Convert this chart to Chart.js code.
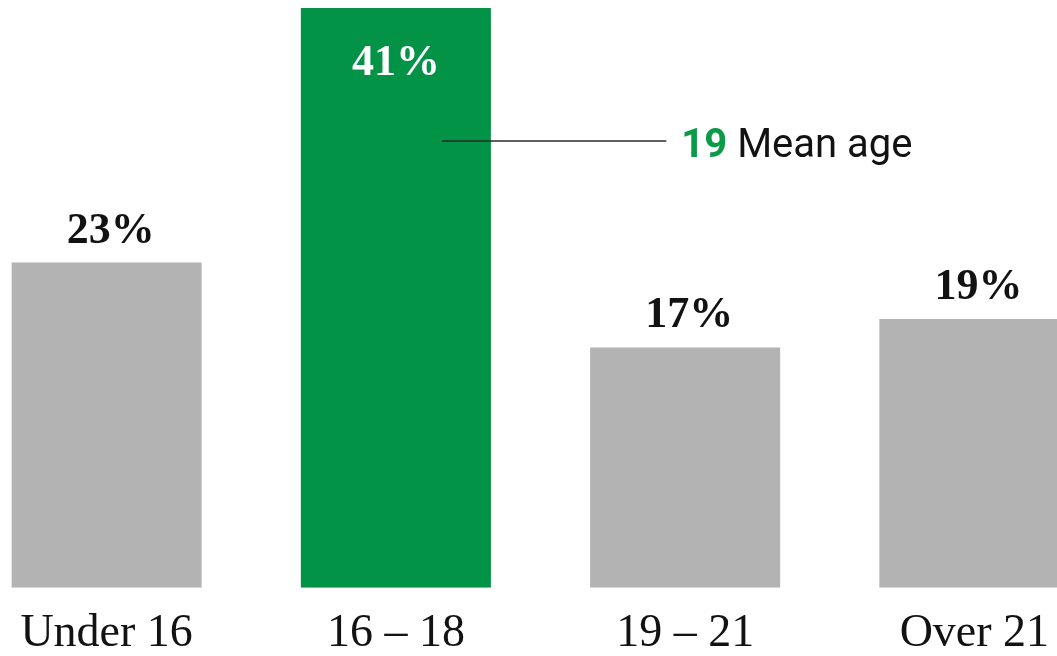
<!DOCTYPE html>
<html>
<head>
<meta charset="utf-8">
<script src="https://cdn.jsdelivr.net/npm/chart.js@4"></script>
<style>
  html, body { margin: 0; padding: 0; background: #fff; overflow: hidden; width: 1057px; height: 656px; }
  #wrap { position: absolute; left: -38px; top: 0; width: 1157px; height: 681px; }
</style>
</head>
<body>
<div id="wrap"><canvas id="c" width="1157" height="681"></canvas></div>
<script>
const categories = ["Under 16", "16 \u2013 18", "19 \u2013 21", "Over 21"];
const shares = [23, 41, 17, 19];
const highlightIndex = 1;
const meanAge = "19";
const meanLabel = "Mean age";

const GREEN = "#039346";
const GREY = "#b3b3b3";
const INK = "#121212";

const barColors = categories.map((_, i) => i === highlightIndex ? GREEN : GREY);

const labelPlugin = {
  id: "labels",
  afterDatasetsDraw(chart) {
    const ctx = chart.ctx;
    const meta = chart.getDatasetMeta(0);
    ctx.save();
    ctx.font = "bold 44px 'Liberation Serif', serif";
    ctx.textAlign = "center";
    ctx.textBaseline = "alphabetic";
    meta.data.forEach((bar, i) => {
      const txt = shares[i] + "%";
      if (i === highlightIndex) {
        ctx.fillStyle = "#ffffff";
        ctx.fillText(txt, bar.x, bar.y + 67);
      } else {
        ctx.fillStyle = INK;
        ctx.fillText(txt, bar.x + 4, bar.y - 20);
      }
    });
    // mean age annotation
    const xs = chart.scales.x, ys = chart.scales.y;
    const step = xs.getPixelForValue(2) - xs.getPixelForValue(1);
    const x0 = xs.getPixelForValue(highlightIndex) + step * 0.16;
    const x1 = xs.getPixelForValue(highlightIndex) + step * 0.935;
    const yL = ys.getPixelForValue(31.6);
    ctx.strokeStyle = "#2a2a2a";
    ctx.lineWidth = 1.6;
    ctx.beginPath();
    ctx.moveTo(x0, yL);
    ctx.lineTo(x1, yL);
    ctx.stroke();
    ctx.textAlign = "left";
    ctx.font = "bold 40px 'Liberation Sans Narrow', 'Roboto', sans-serif";
    ctx.fillStyle = "#0a9a48";
    const tx = x1 + 15;
    const ty = yL + 16;
    ctx.fillText(meanAge, tx, ty);
    const w = ctx.measureText(meanAge + " ").width;
    ctx.font = "40px 'Liberation Sans Narrow', 'Roboto', sans-serif";
    ctx.fillStyle = INK;
    ctx.fillText(meanLabel, tx + w, ty);
    ctx.restore();
  }
};

new Chart(document.getElementById("c"), {
  type: "bar",
  data: {
    labels: categories,
    datasets: [{
      data: shares,
      backgroundColor: barColors,
      borderWidth: 0,
      categoryPercentage: 1,
      barPercentage: 0.657
    }]
  },
  options: {
    responsive: false,
    animation: false,
    layout: { padding: { top: 8, left: 0, right: 0, bottom: 0 } },
    plugins: { legend: { display: false }, tooltip: { enabled: false } },
    scales: {
      y: { display: false, min: 0, max: 41 },
      x: {
        grid: { display: false, drawTicks: false },
        border: { display: false },
        ticks: {
          color: INK,
          padding: 19,
          font: { family: "'Liberation Serif', serif", size: 46, lineHeight: 1.2 }
        }
      }
    }
  },
  plugins: [labelPlugin]
});
</script>
</body>
</html>
